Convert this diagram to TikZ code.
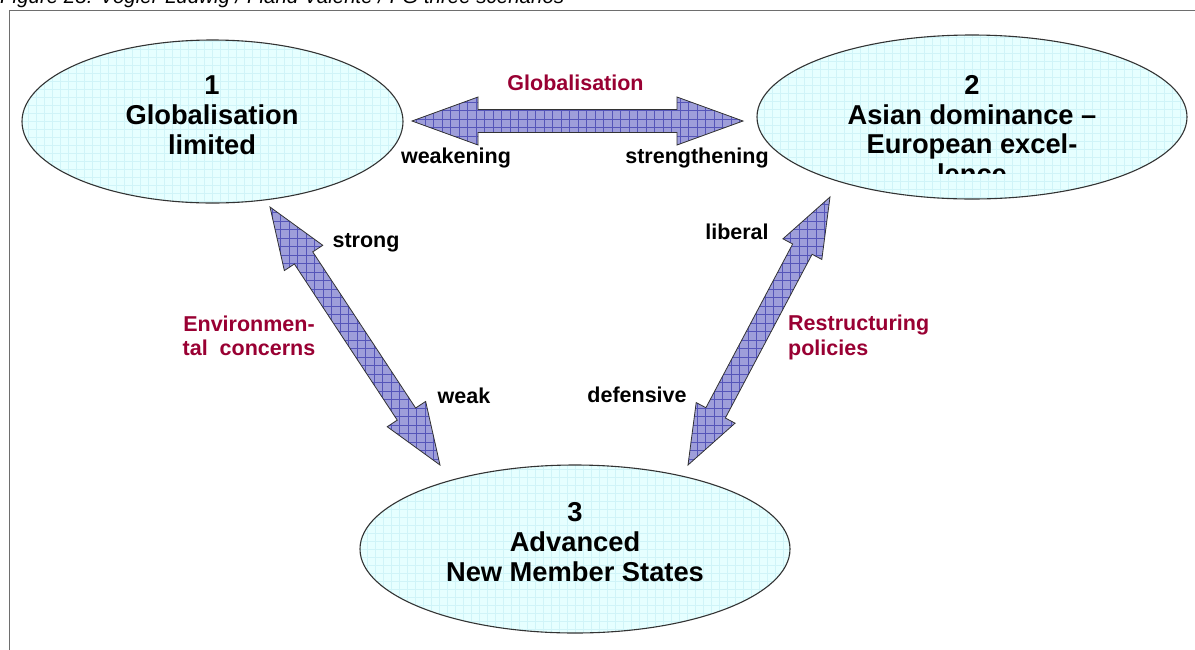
\documentclass[tikz,border=0pt]{standalone}
\usepackage{fontspec}
\setmainfont{Liberation Sans}
\usetikzlibrary{shapes.geometric,calc}
\definecolor{crim}{RGB}{153,0,51}
\definecolor{arrowfill}{RGB}{158,158,218}
\definecolor{arrowgrid}{RGB}{85,85,185}
\definecolor{ellfill}{RGB}{230,255,255}
\definecolor{ellgrid}{RGB}{208,244,248}
\definecolor{framec}{RGB}{110,110,110}
\tikzset{
  scen/.style={ellipse, draw=black!80, line width=1.1pt, fill=ellfill, inner sep=0pt,
    path picture={\draw[ellgrid, line width=0.4pt, step=8pt] (path picture bounding box.south west) grid (path picture bounding box.north east);}},
  etext/.style={font=\bfseries\fontsize{27.3}{30}\selectfont, align=center, inner sep=0pt},
  lbl/.style={font=\bfseries\fontsize{21.5}{23.5}\selectfont, inner sep=0pt, text=black},
  rlbl/.style={lbl, text=crim},
  barrow/.style={fill=arrowfill, draw=black!80, line width=0.8pt, line join=miter,
    path picture={\draw[arrowgrid, line width=0.4pt, step=8.5pt] (path picture bounding box.south west) grid (path picture bounding box.north east);}},
  framestyle/.style={draw=framec, line width=1.8pt}
}
% #1 name, #2 tip A, #3 tip B, #4 head length, #5 head half width, #6 shaft half width
\newcommand{\blockarrow}[6]{%
  \coordinate (#1-a) at ($(#2)!#4!(#3)$);
  \coordinate (#1-b) at ($(#3)!#4!(#2)$);
  \path[barrow] (#2) -- ($(#1-a)!#5!90:(#3)$) -- ($(#1-a)!#6!90:(#3)$)
    -- ($(#1-b)!#6!-90:(#2)$) -- ($(#1-b)!#5!-90:(#2)$) -- (#3)
    -- ($(#1-b)!#5!90:(#2)$) -- ($(#1-b)!#6!90:(#2)$)
    -- ($(#1-a)!#6!-90:(#3)$) -- ($(#1-a)!#5!-90:(#3)$) -- cycle;
}
\begin{document}
\begin{tikzpicture}[x=1pt,y=-1pt]
\clip (0,0) rectangle (1195,649);
\fill[white] (0,0) rectangle (1195,649);
% caption (cut at the top, as in the reference)
\node[anchor=base west, font=\itshape\fontsize{20.5}{22}\selectfont, inner sep=0pt] (cap) at (0,3) {Figure 28: Vogler-Ludwig / Fiand Valente / FG three scenarios};
% frame
\coordinate (fbl) at (9.5,700);
\coordinate (ftl) at (9.5,10.5);
\coordinate (ftr) at (1250,10.5);
\draw[framestyle] (fbl) -- (ftl) -- (ftr);
% scenarios
\node[scen, minimum width=381pt, minimum height=163pt] (s1) at (212.5,121.5) {};
\node[etext] (t1) at (212,115) {1\\Globalisation\\limited};
\node[scen, minimum width=430pt, minimum height=164pt] (s2) at (972,117) {};
\begin{scope}
  \clip (760,40) rectangle (1185,173);
  \node[etext, font=\bfseries\fontsize{27.3}{29.5}\selectfont] (t2) at (972,129.5) {2\\Asian dominance –\\European excel-\\lence};
\end{scope}
\node[scen, minimum width=430pt, minimum height=168pt] (s3) at (575,549) {};
\node[etext] (t3) at (575,542) {3\\Advanced\\New Member States};
% block arrows
\coordinate (h1) at (412,121); \coordinate (h2) at (743,121);
\blockarrow{ha}{h1}{h2}{66pt}{24pt}{11.5pt}
\coordinate (l1) at (270,207); \coordinate (l2) at (440,465);
\blockarrow{la}{l1}{l2}{61pt}{23pt}{11pt}
\coordinate (r1) at (830,197); \coordinate (r2) at (688,465);
\blockarrow{ra}{r1}{r2}{59pt}{22pt}{11pt}
% labels
\node[rlbl] (lg) at (575.5,83) {Globalisation};
\node[lbl] (lw) at (456,158) {weakening};
\node[lbl] (lst) at (697,158) {strengthening};
\node[lbl] (lso) at (366,243) {strong};
\node[lbl] (lwe) at (464,396) {weak};
\node[rlbl, align=center] (lenv) at (249,336) {Environmen-\\tal~ concerns};
\node[lbl] (llib) at (737,232) {liberal};
\node[lbl] (ldef) at (637,395) {defensive};
\node[rlbl, align=left, anchor=west, font=\bfseries\fontsize{21.5}{24.5}\selectfont] (lres) at (788,337.5) {Restructuring\\policies};
\end{tikzpicture}
\end{document}
